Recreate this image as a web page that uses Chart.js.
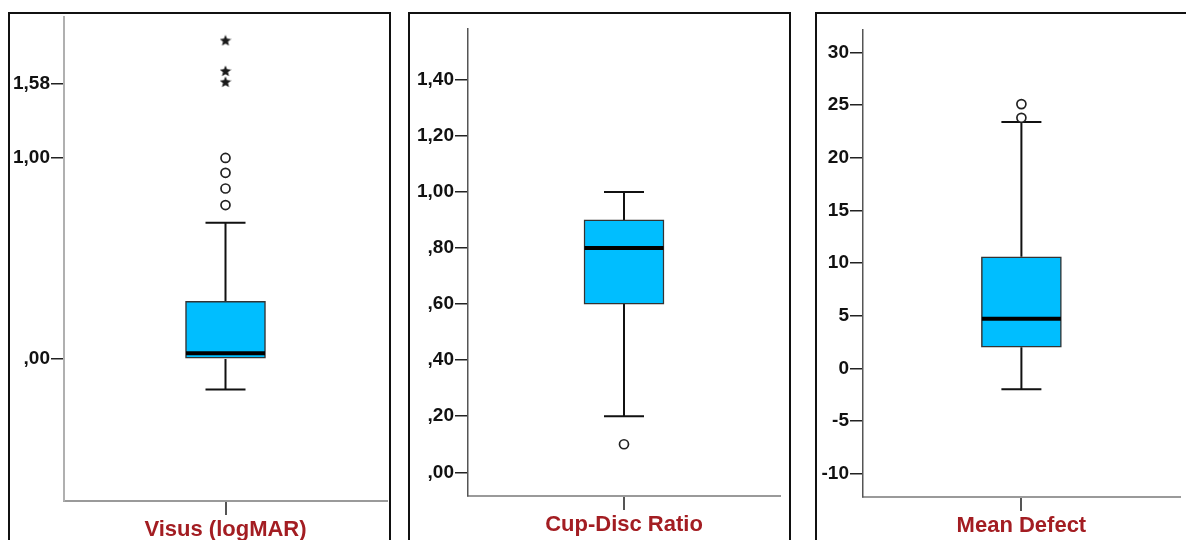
<!DOCTYPE html>
<html>
<head>
<meta charset="utf-8">
<script src="https://cdn.jsdelivr.net/npm/chart.js@4/dist/chart.umd.min.js"></script>
<style>
  html, body { margin: 0; padding: 0; background: #fff; }
  #wrap { position: relative; width: 1186px; height: 540px; overflow: hidden; background: #fff; }
  .panel { position: absolute; border: 2px solid #111; background: #fff; box-sizing: border-box; }
  canvas.layer { position: absolute; left: 0; top: 0; }
</style>
</head>
<body>
<div id="wrap">
  <div class="panel" style="left:8px; top:12px; width:383px; height:600px;"></div>
  <div class="panel" style="left:408px; top:12px; width:383px; height:600px;"></div>
  <div class="panel" style="left:815px; top:12px; width:420px; height:600px;"></div>
  <canvas class="layer" id="c1" width="1186" height="540"></canvas>
  <canvas class="layer" id="c2" width="1186" height="540"></canvas>
  <canvas class="layer" id="c3" width="1186" height="540"></canvas>
</div>
<script>
// ---------------- DATA ----------------
// Panel 1: Visus (logMAR)  (axis drawn on a log(1+x) scale)
const visusLabel = ['Visus (logMAR)'];
const visusBox = [0.00, 0.02, 0.22];          // Q1, median, Q3
const visusWhiskers = [-0.10, 0.60];          // lower, upper
const visusOutliers = [0.70, 0.80, 0.90, 1.00];
const visusExtremes = [1.60, 1.70, 2.00];
const visusTickValues = [0.00, 1.00, 1.58];
const visusTickLabels = [',00', '1,00', '1,58'];

// Panel 2: Cup-Disc Ratio
const cdrLabel = ['Cup-Disc Ratio'];
const cdrBox = [0.60, 0.80, 0.90];
const cdrWhiskers = [0.20, 1.00];
const cdrOutliers = [0.10];
const cdrExtremes = [];
const cdrTickValues = [0.00, 0.20, 0.40, 0.60, 0.80, 1.00, 1.20, 1.40];
const cdrTickLabels = [',00', ',20', ',40', ',60', ',80', '1,00', '1,20', '1,40'];

// Panel 3: Mean Defect
const mdLabel = ['Mean Defect'];
const mdBox = [2.0, 4.7, 10.6];
const mdWhiskers = [-2.0, 23.4];
const mdOutliers = [23.8, 25.1];
const mdExtremes = [];
const mdTickValues = [-10, -5, 0, 5, 10, 15, 20, 25, 30];
const mdTickLabels = ['-10', '-5', '0', '5', '10', '15', '20', '25', '30'];

// ---------------- RENDERING ----------------
Chart.defaults.font.family = "'Liberation Sans', Arial, sans-serif";
Chart.defaults.animation = false;

const BOX_FILL = '#00BEFF';
const TITLE_RED = '#A31D22';

function makeStar(size) {
  const c = document.createElement('canvas');
  c.width = size; c.height = size;
  const g = c.getContext('2d');
  g.fillStyle = '#1a1a1a';
  g.beginPath();
  for (let i = 0; i < 10; i++) {
    const r = (i % 2 === 0) ? size * 0.5 : size * 0.22;
    const a = -Math.PI / 2 + i * Math.PI / 5;
    const x = size / 2 + r * Math.cos(a);
    const y = size / 2 + 0.5 + r * Math.sin(a);
    if (i === 0) g.moveTo(x, y); else g.lineTo(x, y);
  }
  g.closePath();
  g.fill();
  return c;
}
const starImg = makeStar(12);

function whiskerPlugin(box, whiskers, t) {
  return {
    id: 'whiskers',
    beforeDatasetsDraw(chart) {
      const xs = chart.scales.x, ys = chart.scales.y, ctx = chart.ctx;
      const cx = xs.getPixelForValue(0);
      const yq1 = ys.getPixelForValue(t(box[0]));
      const yq3 = ys.getPixelForValue(t(box[2]));
      const ylo = ys.getPixelForValue(t(whiskers[0]));
      const yhi = ys.getPixelForValue(t(whiskers[1]));
      ctx.save();
      ctx.strokeStyle = '#111';
      ctx.lineWidth = 2;
      ctx.beginPath();
      ctx.moveTo(cx, yq3); ctx.lineTo(cx, yhi);
      ctx.moveTo(cx - 20, yhi); ctx.lineTo(cx + 20, yhi);
      ctx.moveTo(cx, yq1); ctx.lineTo(cx, ylo);
      ctx.moveTo(cx - 20, ylo); ctx.lineTo(cx + 20, ylo);
      ctx.stroke();
      ctx.restore();
    },
    afterDatasetDraw(chart, args) {
      if (args.index !== 0) return;
      const xs = chart.scales.x, ys = chart.scales.y, ctx = chart.ctx;
      const cx = xs.getPixelForValue(0);
      const ym = ys.getPixelForValue(t(box[1]));
      ctx.save();
      ctx.strokeStyle = '#000';
      ctx.lineWidth = 4;
      ctx.beginPath();
      ctx.moveTo(cx - 39.5, ym); ctx.lineTo(cx + 39.5, ym);
      ctx.stroke();
      ctx.restore();
    }
  };
}

function makeChart(id, cfg) {
  const t = cfg.t || (v => v);
  const lbl = cfg.label[0];
  const datasets = [
    {
      type: 'bar',
      data: [[t(cfg.box[0]), t(cfg.box[2])]],
      backgroundColor: BOX_FILL,
      borderColor: '#333',
      borderWidth: 1.5,
      borderSkipped: false,
      barThickness: 80,
      grouped: false,
      order: 3
    },
    {
      type: 'line',
      showLine: false,
      data: cfg.outliers.map(v => ({ x: lbl, y: t(v) })),
      pointStyle: 'circle',
      pointRadius: 4.5,
      pointBorderWidth: 1.7,
      pointBorderColor: '#222',
      pointBackgroundColor: '#fff',
      order: 1
    },
    {
      type: 'line',
      showLine: false,
      data: cfg.extremes.map(v => ({ x: lbl, y: t(v) })),
      pointStyle: starImg,
      pointRadius: 5,
      order: 1
    }
  ];
  return new Chart(document.getElementById(id), {
    type: 'bar',
    data: { labels: cfg.label, datasets },
    plugins: [whiskerPlugin(cfg.box, cfg.whiskers, t)],
    options: {
      responsive: false,
      animation: false,
      events: [],
      layout: { padding: cfg.padding },
      plugins: { legend: { display: false }, tooltip: { enabled: false } },
      scales: {
        x: {
          type: 'category',
          offset: true,
          afterFit(s) { s.height = cfg.xHeight; },
          grid: {
            display: true, drawOnChartArea: false, drawTicks: true, offset: false,
            tickLength: 14, color: '#555', lineWidth: 2
          },
          border: { display: true, color: '#9a9a9a', width: 2 },
          ticks: {
            color: TITLE_RED, padding: 2, maxRotation: 0, autoSkip: false,
            font: { size: 22, weight: 'bold' }
          }
        },
        y: {
          type: 'linear',
          min: cfg.min, max: cfg.max,
          afterFit(s) { s.width = cfg.yWidth; },
          afterBuildTicks(s) { s.ticks = cfg.tickValues.map(v => ({ value: t(v) })); },
          grid: {
            display: true, drawOnChartArea: false, drawTicks: true,
            tickLength: 13, color: '#222', lineWidth: 1.5
          },
          border: { display: true, color: cfg.yBorder, width: cfg.yBorderWidth },
          ticks: {
            color: '#111', padding: 1,
            font: { size: 19, weight: 'bold' },
            callback(value, index) { return cfg.tickLabels[index]; }
          }
        }
      }
    }
  });
}

const tVis = v => Math.log2(1 + v);

makeChart('c1', {
  label: visusLabel, box: visusBox, whiskers: visusWhiskers,
  outliers: visusOutliers, extremes: visusExtremes,
  tickValues: visusTickValues, tickLabels: visusTickLabels,
  t: tVis, min: -0.7065, max: 1.701,
  padding: { left: 4, right: 799, top: 17, bottom: 0 },
  yWidth: 60, xHeight: 39, yBorder: '#b0b0b0', yBorderWidth: 2
});

makeChart('c2', {
  label: cdrLabel, box: cdrBox, whiskers: cdrWhiskers,
  outliers: cdrOutliers, extremes: cdrExtremes,
  tickValues: cdrTickValues, tickLabels: cdrTickLabels,
  min: -0.0846, max: 1.581,
  padding: { left: 408, right: 406, top: 29, bottom: 0 },
  yWidth: 60, xHeight: 44, yBorder: '#555', yBorderWidth: 1.5
});

makeChart('c3', {
  label: mdLabel, box: mdBox, whiskers: mdWhiskers,
  outliers: mdOutliers, extremes: mdExtremes,
  tickValues: mdTickValues, tickLabels: mdTickLabels,
  min: -12.23, max: 32.14,
  padding: { left: 803, right: 0, top: 30, bottom: 0 },
  yWidth: 60, xHeight: 43, yBorder: '#555', yBorderWidth: 1.5
});
</script>
</body>
</html>
